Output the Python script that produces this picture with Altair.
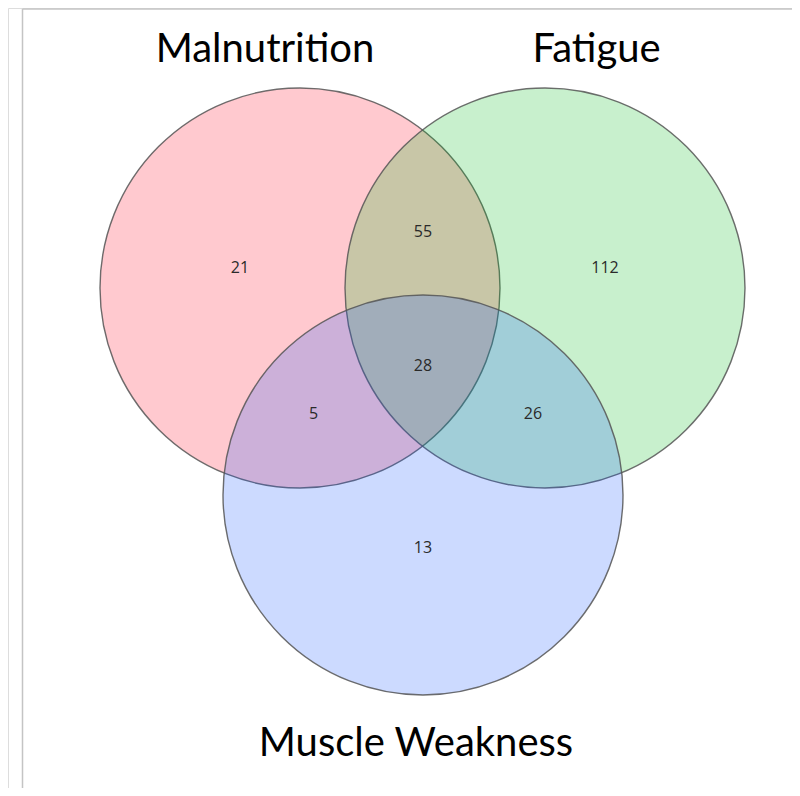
import altair as alt
import pandas as pd

# ---- data ----
set_names = ["Malnutrition", "Fatigue", "Muscle Weakness"]
set_colors = ["#ff0a25", "#05bb1b", "#1757ff"]

region_labels = ["21", "112", "13", "55", "5", "26", "28"]
region_values = [21, 112, 13, 55, 5, 26, 28]

# ---- layout (radius units, diagram centre at origin) ----
circle_cx = [-0.6125, 0.6125, 0.0025]
circle_cy = [0.0, 0.0, -1.035]
region_lx = [-0.9125, 0.9125, 0.0025, 0.0025, -0.545, 0.5525, 0.0025]
region_ly = [0.1025, 0.1, -1.3, 0.28, -0.63, -0.63, -0.3875]
name_lx = [-0.7875, 0.87, -0.0325]
name_ly = [1.13, 1.13, -2.34]

PX = 200.0  # pixels per radius unit
W, H = 784, 780
XD = [-2.0725, -2.0725 + W / PX]
YD = [1.4 - H / PX, 1.4]

xs = alt.Scale(domain=XD, nice=False, zero=False)
ys = alt.Scale(domain=YD, nice=False, zero=False)

circles = pd.DataFrame({
    "name": set_names, "x": circle_cx, "y": circle_cy,
    "color": set_colors, "order": [0, 1, 2],
    "size": [(2 * PX) ** 2] * 3,   # Vega symbol size = bounding-box area
})
regions = pd.DataFrame({"label": region_labels, "value": region_values,
                        "x": region_lx, "y": region_ly})
names = pd.DataFrame({"name": set_names, "x": name_lx, "y": name_ly})
frame = pd.DataFrame({"x": [-2.0, -2.0], "x2": [XD[1], -2.0],
                      "y": [1.395, 1.395], "y2": [1.395, YD[0]]})

noaxis = dict(axis=None)

frame_layer = alt.Chart(frame).mark_rule(color="#c4c4c4", strokeWidth=1.5).encode(
    x=alt.X("x:Q", scale=xs, **noaxis), x2="x2:Q",
    y=alt.Y("y:Q", scale=ys, **noaxis), y2="y2:Q",
)

circle_layer = alt.Chart(circles).mark_circle(
    fillOpacity=0.22, stroke="#555555", strokeWidth=1.4, strokeOpacity=0.85
).encode(
    x=alt.X("x:Q", scale=xs, **noaxis),
    y=alt.Y("y:Q", scale=ys, **noaxis),
    size=alt.Size("size:Q", scale=None, legend=None),
    color=alt.Color("color:N", scale=None, legend=None),
    order=alt.Order("order:Q"),
)

region_layer = alt.Chart(regions).mark_text(
    font="Open Sans", fontSize=16, color="#2a2a2a", baseline="middle", align="center"
).encode(
    x=alt.X("x:Q", scale=xs, **noaxis),
    y=alt.Y("y:Q", scale=ys, **noaxis),
    text="label:N",
)

name_layer = alt.Chart(names).mark_text(
    font="Lato", fontSize=40, color="#000000", baseline="alphabetic", align="center"
).encode(
    x=alt.X("x:Q", scale=xs, **noaxis),
    y=alt.Y("y:Q", scale=ys, **noaxis),
    text="name:N",
)

chart = alt.layer(frame_layer, circle_layer, region_layer, name_layer).properties(
    width=W, height=H, autosize=alt.AutoSizeParams(type="none"), padding=0
).configure_view(stroke=None).configure(background="white")

chart.save("out.html", embed_options={"renderer": "svg", "actions": False})
